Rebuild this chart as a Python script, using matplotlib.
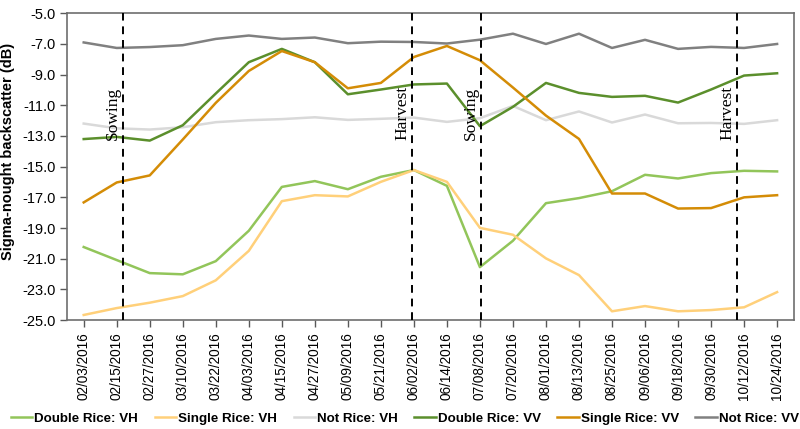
import matplotlib
matplotlib.use("Agg")
import matplotlib.pyplot as plt

dates = ["02/03/2016", "02/15/2016", "02/27/2016", "03/10/2016", "03/22/2016",
         "04/03/2016", "04/15/2016", "04/27/2016", "05/09/2016", "05/21/2016",
         "06/02/2016", "06/14/2016", "07/08/2016", "07/20/2016", "08/01/2016",
         "08/13/2016", "08/25/2016", "09/06/2016", "09/18/2016", "09/30/2016",
         "10/12/2016", "10/24/2016"]

double_vh = [-20.24, -21.09, -21.94, -22.02, -21.16, -19.18, -16.32, -15.94, -16.47, -15.66,
             -15.22, -16.25, -21.55, -19.83, -17.38, -17.05, -16.60, -15.53, -15.77, -15.42,
             -15.27, -15.31]
single_vh = [-24.67, -24.22, -23.87, -23.44, -22.41, -20.49, -17.25, -16.86, -16.94, -15.99,
             -15.22, -15.99, -18.99, -19.44, -20.98, -22.07, -24.43, -24.09, -24.43, -24.35,
             -24.17, -23.18]
not_vh = [-12.19, -12.50, -12.58, -12.43, -12.10, -11.97, -11.90, -11.78, -11.95, -11.88,
          -11.80, -12.08, -11.84, -11.04, -11.97, -11.40, -12.12, -11.60, -12.17, -12.15,
          -12.21, -11.97]
double_vv = [-13.20, -13.06, -13.30, -12.30, -10.23, -8.19, -7.32, -8.19, -10.28, -9.97,
             -9.64, -9.58, -12.36, -11.10, -9.54, -10.19, -10.45, -10.38, -10.82, -9.97,
             -9.06, -8.91]
single_vv = [-17.33, -16.03, -15.57, -13.23, -10.84, -8.76, -7.46, -8.19, -9.89, -9.54,
             -7.85, -7.13, -8.06, -9.84, -11.67, -13.19, -16.75, -16.75, -17.73, -17.70,
             -17.00, -16.86]
not_vv = [-6.90, -7.26, -7.20, -7.08, -6.67, -6.45, -6.67, -6.58, -6.95, -6.85,
          -6.87, -6.97, -6.72, -6.33, -7.00, -6.33, -7.26, -6.73, -7.32, -7.19,
          -7.26, -7.00]

series_names = ["Double Rice: VH", "Single Rice: VH", "Not Rice: VH",
                "Double Rice: VV", "Single Rice: VV", "Not Rice: VV"]
series_colors = ["#92C55A", "#FFD07A", "#D9D9D9", "#5B8F2C", "#D48C06", "#808080"]

event_labels = ["Sowing", "Harvest", "Sowing", "Harvest"]
event_positions = [1.2, 9.95, 12.03, 19.8]

yticks = [-5.0, -7.0, -9.0, -11.0, -13.0, -15.0, -17.0, -19.0, -21.0, -23.0, -25.0]

sans = ["Liberation Sans", "DejaVu Sans"]

fig = plt.figure(figsize=(8, 4.29), dpi=100)
ax = fig.add_axes([0.084, 0.254, 0.908, 0.715])

x = list(range(len(dates)))
all_series = [double_vh, single_vh, not_vh, double_vv, single_vv, not_vv]
for vals, name, col in zip(all_series, series_names, series_colors):
    ax.plot(x, vals, color=col, lw=1.8, label=name, solid_joinstyle="round")

for lab, pos in zip(event_labels, event_positions):
    ax.axvline(pos, color="black", lw=1.4, ls=(0, (4, 3)), zorder=5)
    ax.text(pos - 0.06, -11.5, lab, rotation=90, ha="right", va="center",
            fontsize=12.5, family=["Liberation Serif", "DejaVu Serif"], zorder=6)

ax.set_xlim(-0.5, 21.5)
ax.set_ylim(-25, -5)
ax.set_yticks(yticks)
ax.set_yticklabels([f"{v:.1f}" for v in yticks], family=sans, fontsize=10.5)
ax.set_xticks(x)
ax.set_xticklabels(dates, rotation=90, family=sans, fontsize=9.8)
ax.tick_params(axis="both", colors="#595959", length=5, width=1, labelcolor="black")
ax.tick_params(axis="y", pad=3)
ax.tick_params(axis="x", pad=4)
for sp in ax.spines.values():
    sp.set_color("#6e6e6e")
    sp.set_linewidth(1.2)

ax.set_ylabel("Sigma-nought backscatter (dB)", fontsize=10.5, fontweight="bold",
              family=sans, labelpad=3)
ax.yaxis.set_label_coords(-0.072, 0.55)

leg = fig.legend(loc="center", bbox_to_anchor=(0.506, 0.024), ncol=6, frameon=False,
                 prop={"family": sans, "weight": "bold", "size": 9.6},
                 handlelength=1.6, handletextpad=0.15, columnspacing=1.25)

fig.savefig("out.png", dpi=100)
